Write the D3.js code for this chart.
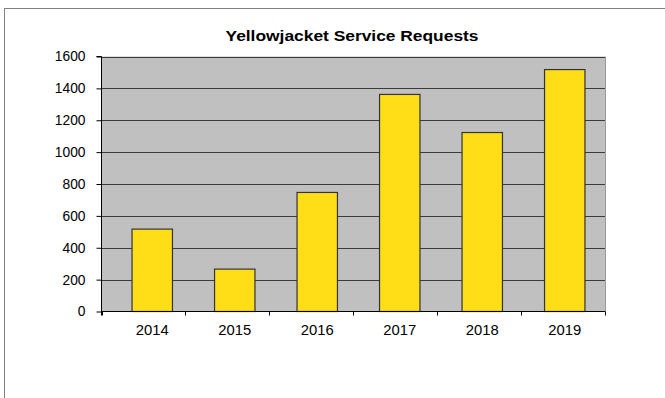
<!DOCTYPE html>
<html>
<head>
<meta charset="utf-8">
<script src="https://cdn.jsdelivr.net/npm/d3@7"></script>
<style>
  html, body { margin: 0; padding: 0; background: #fff; }
  svg { display: block; font-family: "Liberation Sans", Arial, sans-serif; }
</style>
</head>
<body>
<svg id="chart" width="665" height="398"></svg>
<script>
// Yearly counts of yellowjacket service requests
const years = ["2014", "2015", "2016", "2017", "2018", "2019"];
const requests = [517, 266, 747, 1362, 1123, 1518];
const yTicks = [0, 200, 400, 600, 800, 1000, 1200, 1400, 1600];
const title = "Yellowjacket Service Requests";

const svg = d3.select("#chart");

// Outer chart frame
svg.append("rect")
  .attr("x", 4.5).attr("y", 8.5)
  .attr("width", 680).attr("height", 400)
  .attr("fill", "#fff")
  .attr("stroke", "#808080")
  .attr("stroke-width", 1);

const plot = { left: 102, right: 605, top: 57, bottom: 312 };

const y = d3.scaleLinear()
  .domain([0, 1600])
  .range([plot.bottom - 0.5, plot.top - 0.5]);

// Category axis divisions
const xAxisBand = d3.scaleBand()
  .domain(years)
  .range([plot.left - 0.5, plot.right]);

// Bar placement
const xBar = d3.scaleBand()
  .domain(years)
  .range([plot.left + 9, plot.right + 1])
  .paddingInner(0.51)
  .paddingOuter(0.255);

// Plot area background
svg.append("rect")
  .attr("x", plot.left).attr("y", plot.top - 0.5)
  .attr("width", plot.right - plot.left)
  .attr("height", plot.bottom - plot.top)
  .attr("fill", "#c0c0c0");

// Right edge of plot area
svg.append("line")
  .attr("x1", plot.right + 0.5).attr("x2", plot.right + 0.5)
  .attr("y1", plot.top - 0.5).attr("y2", plot.bottom)
  .attr("stroke", "#9a9a9a");

// Horizontal gridlines
svg.append("g")
  .selectAll("line")
  .data(yTicks.filter(d => d > 0))
  .join("line")
  .attr("x1", plot.left).attr("x2", plot.right)
  .attr("y1", d => Math.round(y(d)) + 0.5)
  .attr("y2", d => Math.round(y(d)) + 0.5)
  .attr("stroke", "#3a3a3a")
  .attr("stroke-width", 1);

// Bars
svg.append("g")
  .selectAll("rect")
  .data(years.map((yr, i) => ({ yr, v: requests[i] })))
  .join("rect")
  .attr("x", d => xBar(d.yr))
  .attr("y", d => y(d.v))
  .attr("width", xBar.bandwidth())
  .attr("height", d => y(0) - y(d.v))
  .attr("fill", "#ffdd17")
  .attr("stroke", "#333")
  .attr("stroke-width", 1.2);

// Y axis
const yAxis = d3.axisLeft(y)
  .tickValues(yTicks)
  .tickSize(5)
  .tickPadding(11)
  .tickFormat(d3.format("d"));
const gy = svg.append("g")
  .attr("transform", `translate(${plot.left - 0.5},0)`)
  .call(yAxis);
gy.select(".domain").attr("stroke", "#000").attr("d", `M-5,${y(1600)}H0V${y(0) + 4}`);
gy.selectAll(".tick line").attr("stroke", "#000");
gy.selectAll(".tick text")
  .attr("fill", "#000")
  .style("font-size", "13.8px")
  .style("font-family", "'Liberation Sans', Arial, sans-serif");

// X axis line and division ticks
const gx = svg.append("g");
gx.append("line")
  .attr("x1", plot.left - 0.5).attr("x2", plot.right)
  .attr("y1", y(0)).attr("y2", y(0))
  .attr("stroke", "#000");
const bounds = years.map(d => xAxisBand(d)).concat([xAxisBand.range()[1]]);
gx.selectAll("line.div")
  .data(bounds)
  .join("line")
  .attr("class", "div")
  .attr("x1", d => Math.round(d) + 0.5).attr("x2", d => Math.round(d) + 0.5)
  .attr("y1", y(0)).attr("y2", y(0) + 4)
  .attr("stroke", "#000");
gx.selectAll("text")
  .data(years)
  .join("text")
  .attr("x", d => xBar(d) + xBar.bandwidth() / 2)
  .attr("y", 335)
  .attr("text-anchor", "middle")
  .attr("fill", "#000")
  .style("font-size", "14.8px")
  .text(d => d);

// Title
svg.append("text")
  .attr("x", 352)
  .attr("y", 41)
  .attr("text-anchor", "middle")
  .attr("fill", "#000")
  .attr("textLength", 253)
  .attr("lengthAdjust", "spacingAndGlyphs")
  .style("font-size", "15.5px")
  .style("font-weight", "bold")
  .text(title);
</script>
</body>
</html>
